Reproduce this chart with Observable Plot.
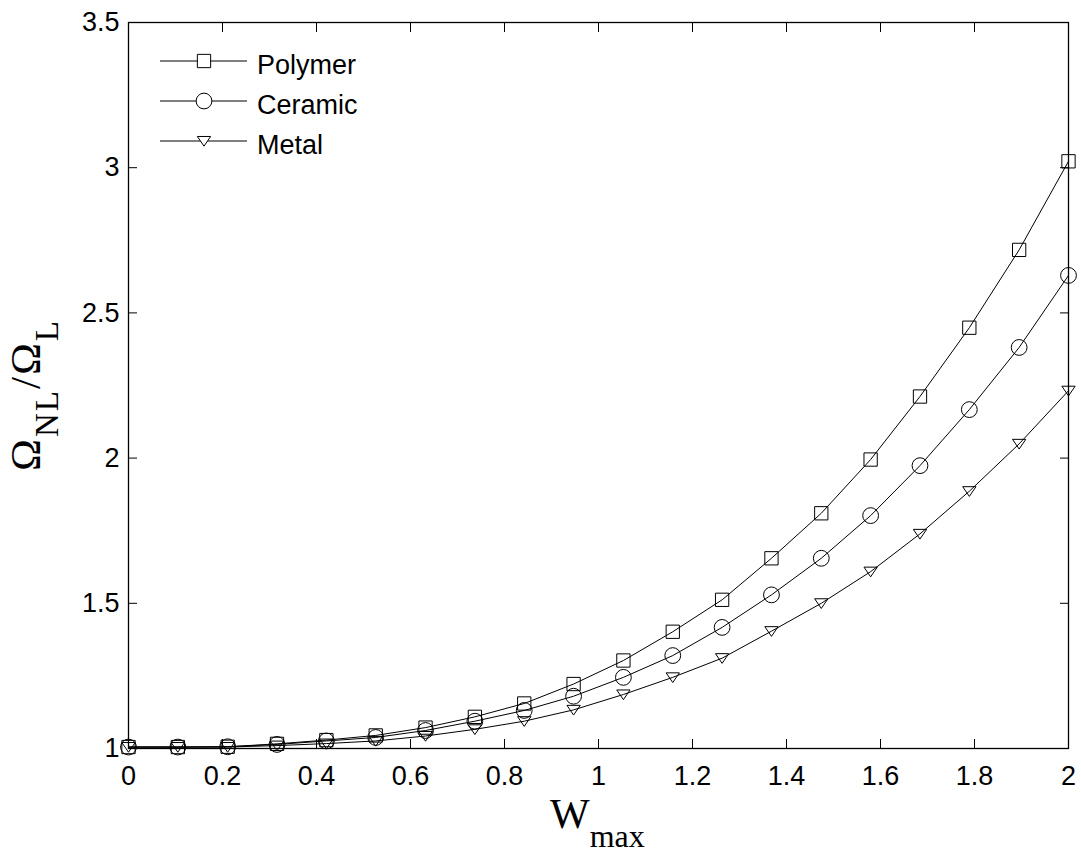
<!DOCTYPE html>
<html>
<head>
<meta charset="utf-8">
<script src="https://cdn.jsdelivr.net/npm/d3@7"></script>
<script src="https://cdn.jsdelivr.net/npm/@observablehq/plot@0.6"></script>
<style>
  body { margin: 0; background: #fff; }
  #chart svg { display: block; }
</style>
</head>
<body>
<div id="chart"></div>
<script>
// Maximum deflection W_max (sample points along the curves)
const wmax = [0, 0.105, 0.211, 0.316, 0.421, 0.526, 0.632, 0.737, 0.842, 0.947,
              1.053, 1.158, 1.263, 1.368, 1.474, 1.579, 1.684, 1.789, 1.895, 2];

// Nonlinear-to-linear frequency ratio for each material
const polymer = [1.005, 1.005, 1.006, 1.016, 1.029, 1.045, 1.072, 1.109, 1.155, 1.222,
                 1.303, 1.402, 1.512, 1.655, 1.810, 1.995, 2.212, 2.449, 2.717, 3.022];
const ceramic = [1.005, 1.005, 1.006, 1.014, 1.026, 1.038, 1.062, 1.094, 1.131, 1.180,
                 1.245, 1.320, 1.417, 1.529, 1.655, 1.802, 1.974, 2.167, 2.381, 2.629];
const metal   = [1.005, 1.005, 1.005, 1.010, 1.017, 1.026, 1.043, 1.066, 1.094, 1.133,
                 1.186, 1.245, 1.311, 1.404, 1.500, 1.609, 1.739, 1.886, 2.049, 2.232];

const seriesNames = ["Polymer", "Ceramic", "Metal"];
const seriesValues = [polymer, ceramic, metal];

const xTicks = [0, 0.2, 0.4, 0.6, 0.8, 1, 1.2, 1.4, 1.6, 1.8, 2];
const yTicks = [1, 1.5, 2, 2.5, 3, 3.5];

// Open marker shapes: square, circle, downward triangle
const squareSym = {
  draw(ctx, size) { const s = Math.sqrt(size) / 2; ctx.rect(-s, -s, 2 * s, 2 * s); }
};
const circleSym = {
  draw(ctx, size) { const r = Math.sqrt(size / Math.PI); ctx.moveTo(r, 0); ctx.arc(0, 0, r, 0, 2 * Math.PI); }
};
const triDownSym = {
  draw(ctx, size) {
    const w = Math.sqrt(size) / 2;
    ctx.moveTo(-w, -0.68 * w);
    ctx.lineTo(w, -0.68 * w);
    ctx.lineTo(0, 0.78 * w);
    ctx.closePath();
  }
};
const symbols = [squareSym, circleSym, triDownSym];
const markerR = [7.5, 7.9, 7.5];

// Long table built from the named arrays
const rows = [];
seriesNames.forEach((name, k) => {
  wmax.forEach((w, i) => rows.push({series: name, w, v: seriesValues[k][i]}));
});

const fmt = d3.format("~g");

const marks = [
  Plot.frame({stroke: "#000", strokeWidth: 1.3}),
  Plot.axisX({ticks: xTicks, tickSize: -9, tickPadding: 26, tickFormat: fmt, label: null}),
  Plot.axisX({anchor: "top", ticks: xTicks, tickSize: -9, tickFormat: () => "", label: null}),
  Plot.axisY({ticks: yTicks, tickSize: -9, tickPadding: 18, tickFormat: fmt, label: null}),
  Plot.axisY({anchor: "right", ticks: yTicks, tickSize: -9, tickFormat: () => "", label: null}),
  Plot.line(rows, {x: "w", y: "v", z: "series", stroke: "#000", strokeWidth: 1})
];
seriesNames.forEach((name, k) => {
  marks.push(Plot.dot(rows.filter(d => d.series === name), {
    x: "w", y: "v", symbol: symbols[k], r: markerR[k],
    fill: "none", stroke: "#000", strokeWidth: 1
  }));
});

const chart = Plot.plot({
  width: 1081,
  height: 855,
  marginLeft: 128,
  marginRight: 13,
  marginTop: 22,
  marginBottom: 107,
  x: {domain: [0, 2]},
  y: {domain: [1, 3.5]},
  style: {
    fontFamily: "'Liberation Sans', Arial, sans-serif",
    fontSize: "27px",
    color: "#000",
    background: "#fff",
    overflow: "visible"
  },
  marks
});

const svg = d3.select(chart);

// Legend in the upper-left corner of the axes
const legend = svg.append("g")
  .attr("font-family", "'Liberation Sans', Arial, sans-serif")
  .attr("font-size", 27)
  .attr("text-anchor", "start");
seriesNames.forEach((name, k) => {
  const y = 61 + k * 40;
  legend.append("line")
    .attr("x1", 160).attr("x2", 247).attr("y1", y).attr("y2", y)
    .attr("stroke", "#000").attr("stroke-width", 1);
  legend.append("path")
    .attr("d", d3.symbol(symbols[k], markerR[k] * markerR[k] * Math.PI)())
    .attr("transform", `translate(204,${y})`)
    .attr("fill", "#fff").attr("stroke", "#000").attr("stroke-width", 1);
  legend.append("text")
    .attr("x", 257).attr("y", y + 13)
    .attr("fill", "#000")
    .text(name);
});

// Axis titles with subscripts
const serif = "'Liberation Serif', 'Times New Roman', serif";
const xt = svg.append("text")
  .attr("x", 550).attr("y", 828)
  .attr("text-anchor", "start")
  .attr("font-family", serif).attr("font-size", 42).attr("fill", "#000");
xt.append("tspan").text("W");
xt.append("tspan").attr("font-size", 32).attr("dy", 19).text("max");

const yt = svg.append("text")
  .attr("transform", "translate(40,395) rotate(-90)")
  .attr("text-anchor", "middle")
  .attr("letter-spacing", 2)
  .attr("font-family", serif).attr("font-size", 43).attr("fill", "#000");
yt.append("tspan").text("Ω");
yt.append("tspan").attr("font-size", 33).attr("dy", 18).text("NL");
yt.append("tspan").attr("dy", -18).text("/Ω");
yt.append("tspan").attr("font-size", 33).attr("dy", 18).text("L");

document.getElementById("chart").appendChild(chart);
</script>
</body>
</html>
